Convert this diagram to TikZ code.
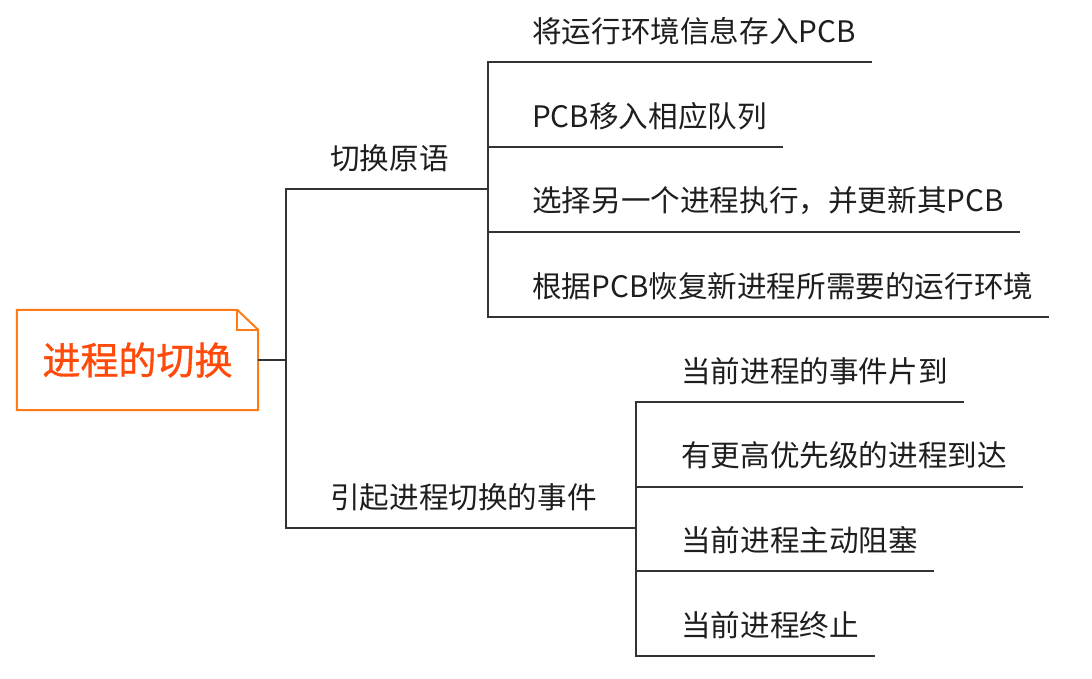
\documentclass[tikz,border=0pt]{standalone}
\usepackage{fontspec}
\usepackage{xcolor}
\usepackage{tikz}
\usetikzlibrary{positioning,calc}
\newfontfamily\cjk{Noto Sans CJK SC}
\newfontfamily\cjkroot[UprightFeatures={FakeBold=0.9}]{Noto Sans CJK SC}
\definecolor{ink}{HTML}{1E1E1E}
\definecolor{wire}{HTML}{333333}
\definecolor{cRoot}{HTML}{FF7A12}
\definecolor{cRootTxt}{HTML}{FF4A0A}
\tikzset{
  rt/.style   = {minimum width=241pt, minimum height=100pt, inner sep=0pt,
                 font=\cjkroot\fontsize{38}{44}\selectfont, text=cRootTxt},
  br/.style   = {anchor=west, inner sep=0pt, font=\cjk\fontsize{29.6}{34}\selectfont, text=ink},
  lf/.style   = {br},
  ln/.style   = {draw=wire, line width=2pt},
  edge/.style = {draw=cRoot, line width=2pt},
}

\begin{document}
\begin{tikzpicture}[x=1pt, y=-1pt]
  \useasboundingbox (0,0) rectangle (1092,678);

  % root with folded corner
  \node[rt] (root) at (137.5,360) {进程的切换};
  \draw[edge] (root.north west) -- ($(root.north east)+(-21,0)$) -- ($(root.north east)+(0,20)$)
       -- (root.south east) -- (root.south west) -- cycle;
  \draw[edge, line width=1.6pt] ($(root.north east)+(-21,0)$) |- ($(root.north east)+(0,20)$);

  % first level
  \coordinate (hub) at (286,360);
  \node[br] (b1) at (330,158) {切换原语};
  \node[br] (b2) at (330,497) {引起进程切换的事件};
  \coordinate (h1) at (488,189);
  \coordinate (h2) at (636,528);
  \draw[ln] (root.east) -- (hub);
  \draw[ln] (hub) |- (h1);
  \draw[ln] (hub) |- (h2);

  % leaves of b1
  \foreach \txt [count=\i] in {将运行环境信息存入PCB, PCB移入相应队列,
      {选择另一个进程执行，并更新其PCB}, 根据PCB恢复新进程所需要的运行环境} {
    \node[lf] (a\i) at (532, {31+85*(\i-1)}) {\txt};
    \draw[ln] (h1) |- ($(a\i.east)+(16,31)$);
  }

  % leaves of b2
  \foreach \txt [count=\i] in {当前进程的事件片到, 有更高优先级的进程到达,
      当前进程主动阻塞, 当前进程终止} {
    \node[lf] (c\i) at (681, {371+84.7*(\i-1)}) {\txt};
    \draw[ln] (h2) |- ($(c\i.east)+(16,31)$);
  }
\end{tikzpicture}
\end{document}
